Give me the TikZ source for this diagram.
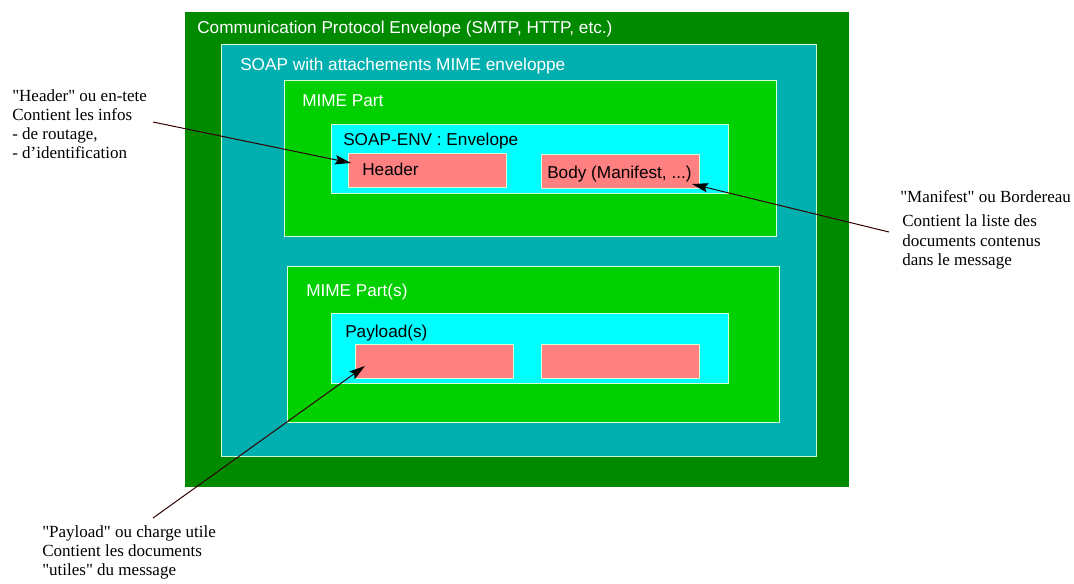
\documentclass[tikz,border=0pt]{standalone}
\usepackage{fontspec}
\setmainfont{Liberation Serif}[Ligatures=TeXOff]
\newfontfamily\lsans{Liberation Sans}
\usetikzlibrary{arrows.meta}
\definecolor{dgreen}{RGB}{0,138,0}
\definecolor{tealb}{RGB}{0,176,176}
\definecolor{mgreen}{RGB}{0,208,0}
\definecolor{cyanb}{RGB}{0,255,255}
\definecolor{pinkb}{RGB}{255,128,128}
\definecolor{bord}{RGB}{215,255,215}
\definecolor{arrc}{RGB}{50,0,0}
\begin{document}
\begin{tikzpicture}[x=0.75pt,y=-0.75pt,
  box/.style={draw=bord, line width=0.75pt, inner sep=0pt, outer sep=0pt, anchor=north west},
  lbl/.style={anchor=base west, inner sep=0pt, font=\lsans\fontsize{12.9}{15}\selectfont},
  wlbl/.style={lbl, text=white},
  note/.style={anchor=base west, inner sep=0pt, font=\fontsize{12.75}{14.25}\selectfont},
  arr/.style={draw=arrc, line width=0.75pt, -{Stealth[length=12pt,width=7pt,inset=2pt,color=black,fill=black]}}]
\useasboundingbox (0,0) rectangle (1074,583);
% boxes
\node[box, draw=none, fill=dgreen, minimum width=664*0.75pt, minimum height=475*0.75pt] (cpe) at (185,12) {};
\node[box, fill=tealb, minimum width=595*0.75pt, minimum height=412*0.75pt] (soap) at (221,44) {};
\node[box, fill=mgreen, minimum width=492*0.75pt, minimum height=156*0.75pt] (mime1) at (284,80) {};
\node[box, fill=cyanb, minimum width=397*0.75pt, minimum height=69*0.75pt] (env) at (331,124) {};
\node[box, fill=pinkb, minimum width=158*0.75pt, minimum height=34*0.75pt] (header) at (348,153) {};
\node[box, fill=pinkb, minimum width=158*0.75pt, minimum height=34*0.75pt] (body) at (541,154) {};
\node[box, fill=mgreen, minimum width=492*0.75pt, minimum height=156*0.75pt] (mime2) at (287,266) {};
\node[box, fill=cyanb, minimum width=397*0.75pt, minimum height=70*0.75pt] (pay) at (331,313) {};
\node[box, fill=pinkb, minimum width=158*0.75pt, minimum height=34*0.75pt] (p1) at (355,344) {};
\node[box, fill=pinkb, minimum width=158*0.75pt, minimum height=34*0.75pt] (p2) at (541,344) {};
% labels
\node[wlbl] (tcpe) at (197,33) {Communication Protocol Envelope (SMTP, HTTP, etc.)};
\node[wlbl] (tsoap) at (240,70) {SOAP with attachements MIME enveloppe};
\node[wlbl] (tmime1) at (302,106) {MIME Part};
\node[lbl] (tenv) at (343,145) {SOAP-ENV : Envelope};
\node[lbl] (theader) at (362,175) {Header};
\node[lbl] (tbody) at (547,178) {Body (Manifest, ...)};
\node[wlbl] (tmime2) at (306,296) {MIME Part(s)};
\node[lbl] (tpay) at (345,337) {Payload(s)};
% notes
\node[note] (h1) at (12,101) {"Header" ou en-tete};
\node[note] (h2) at (12,120) {Contient les infos};
\node[note] (h3) at (12,139) {- de routage,};
\node[note] (h4) at (12,158) {- d’identification};
\node[note] (m1) at (900,202) {"Manifest" ou Bordereau};
\node[note] (m2) at (902,226) {Contient la liste des};
\node[note] (m3) at (902,246) {documents contenus};
\node[note] (m4) at (902,265) {dans le message};
\node[note] (q1) at (42,537) {"Payload" ou charge utile};
\node[note] (q2) at (42,556) {Contient les documents};
\node[note] (q3) at (42,575) {"utiles" du message};
% arrows
\coordinate (hs) at (153,122);
\coordinate (ht) at (351,163);
\coordinate (ms) at (889,232);
\coordinate (mt) at (692,184);
\coordinate (qs) at (153,518);
\coordinate (qt) at (365,366);
\draw[arr] (hs) -- (ht);
\draw[arr] (ms) -- (mt);
\draw[arr] (qs) -- (qt);
\end{tikzpicture}
\end{document}
